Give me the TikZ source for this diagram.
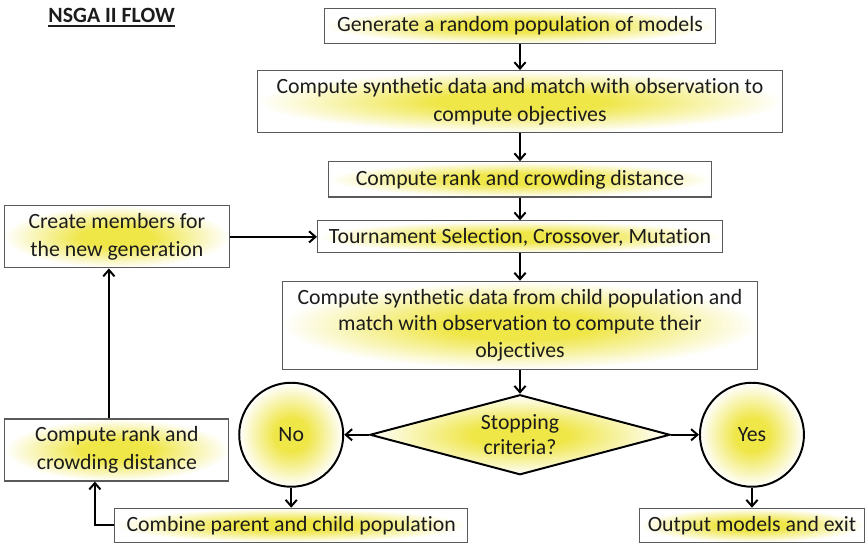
\documentclass[tikz,border=0pt]{standalone}
\usepackage{fontspec}
\setmainfont{Carlito}[Ligatures=NoCommon]
\usetikzlibrary{positioning, arrows.meta, shapes.geometric}
\definecolor{glow}{HTML}{EFE647}
\definecolor{ink}{HTML}{1C1C1C}
\definecolor{rim}{HTML}{5A5A5A}
\pgfdeclareradialshading{glowfill}{\pgfpoint{0bp}{0bp}}{%
  color(0bp)=(glow); color(8bp)=(glow); color(25bp)=(white); color(50bp)=(white)}
\tikzset{
  flowbox/.style = {rectangle, draw=rim, line width=0.8pt, shading=glowfill,
                    align=center, text=ink, inner sep=1pt,
                    font=\fontsize{15.5}{20}\selectfont},
  decide/.style  = {diamond, draw=black, line width=1.4pt, shading=glowfill,
                    aspect=3.75, inner sep=0pt, minimum width=7.5cm,
                    minimum height=2cm, align=center, text=ink,
                    font=\fontsize{15.5}{18}\selectfont},
  answer/.style  = {circle, draw=black, line width=1.4pt, shading=glowfill,
                    minimum size=2.6cm, inner sep=0pt, text=ink,
                    font=\fontsize{15.5}{18}\selectfont},
  heading/.style = {inner sep=0pt, text=ink, font=\bfseries\fontsize{15.5}{18}\selectfont},
  arr/.style     = {-{Straight Barb[length=1.6mm,width=2.8mm]}, line width=1.4pt, draw=black},
}

\begin{document}
\begin{tikzpicture}
  \useasboundingbox (0,0) rectangle (21.7,-13.675);

  \node[heading] (title) at (2.79,-0.375) {NSGA II FLOW};
  \draw[line width=1.4pt, ink] ([yshift=-2.5pt]title.south west) -- ([yshift=-2.5pt]title.south east);

  % main column
  \node[flowbox, minimum width=9.775cm, minimum height=0.875cm] (gen) at (13.0,-0.65)
        {Generate a random population of models};
  \node[flowbox, below=0.65cm of gen, minimum width=13.125cm, minimum height=1.55cm] (match)
        {Compute synthetic data and match with observation to\\compute objectives};
  \node[flowbox, below=0.7cm of match, minimum width=9.575cm, minimum height=0.88cm] (rank)
        {Compute rank and crowding distance};
  \node[flowbox, below=0.57cm of rank, minimum width=10.125cm, minimum height=0.8cm] (tourn)
        {Tournament Selection, Crossover, Mutation};
  \node[flowbox, below=0.68cm of tourn, minimum width=11.875cm, minimum height=2.2cm,
        font=\fontsize{15.5}{19}\selectfont] (child)
        {Compute synthetic data from child population and\\match with observation to compute their\\objectives};
  \node[decide, below=0.6cm of child] (stop) {Stopping\\criteria?};

  % outcomes
  \node[answer, left=0.62cm of stop]  (no)  {No};
  \node[answer, right=0.7cm of stop]  (yes) {Yes};
  \node[flowbox, below=0.5cm of no, minimum width=8.825cm, minimum height=0.85cm] (combine)
        {Combine parent and child population};
  \node[flowbox, below=0.5cm of yes, minimum width=5.625cm, minimum height=0.85cm] (output)
        {Output models and exit};

  % loop back
  \node[flowbox, left=2.175cm of tourn, minimum width=5.625cm, minimum height=1.55cm] (create)
        {Create members for\\the new generation};
  \node[flowbox, below=3.75cm of create, minimum width=5.6cm, minimum height=1.55cm] (rerank)
        {Compute rank and\\crowding distance};

  \draw[arr] (gen.south) -- (match.north);
  \draw[arr] (match.south) -- (rank.north);
  \draw[arr] (rank.south) -- (tourn.north);
  \draw[arr] (tourn.south) -- (child.north);
  \draw[arr] (child.south) -- (stop.north);
  \draw[arr] (stop.west) -- (no.east);
  \draw[arr] (stop.east) -- (yes.west);
  \draw[arr] (no.south) -- (combine.north);
  \draw[arr] (yes.south) -- (output.north);
  \draw[arr] (combine.west) -| ([xshift=-0.55cm]rerank.south);
  \draw[arr] ([xshift=-0.2cm]rerank.north) -- ([xshift=-0.2cm]create.south);
  \draw[arr] (create.east) -- (tourn.west);

\end{tikzpicture}
\end{document}
